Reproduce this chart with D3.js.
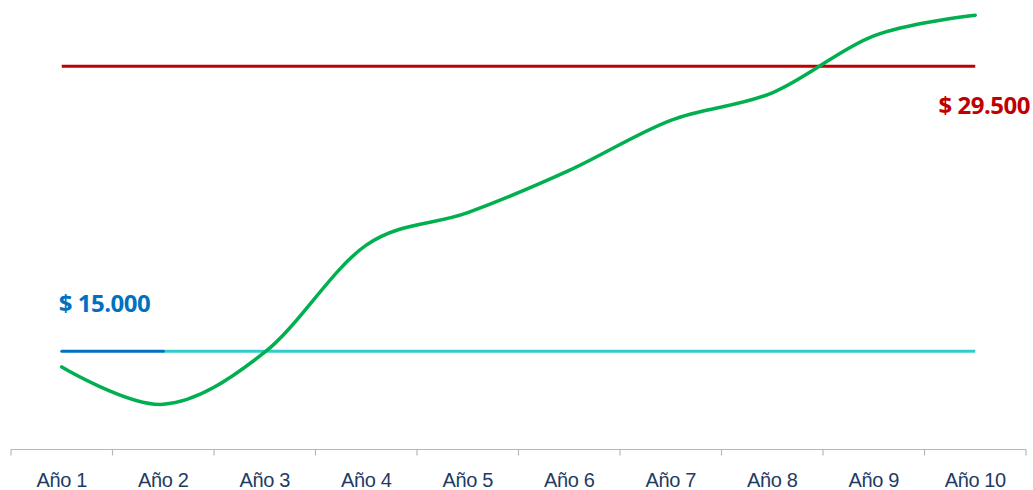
<!DOCTYPE html>
<html>
<head>
<meta charset="utf-8">
<script src="https://cdn.jsdelivr.net/npm/d3@7"></script>
<style>
  html, body { margin: 0; padding: 0; background: #fff; }
  svg { display: block; }
</style>
</head>
<body>
<svg id="chart" width="1033" height="490"></svg>
<script>
// Categories along the x axis
const years = ["Año 1", "Año 2", "Año 3", "Año 4", "Año 5", "Año 6", "Año 7", "Año 8", "Año 9", "Año 10"];
// Projected value per year (green curve)
const projection = [14200, 12300, 14950, 20400, 22050, 24200, 26750, 28150, 31050, 32100];
// Reference levels
const initialValue = 15000;
const targetValue = 29500;
const initialLabel = "$ 15.000";
const targetLabel = "$ 29.500";

const svg = d3.select("#chart");

const x = d3.scaleBand().domain(years).range([11, 1026]);
const y = d3.scaleLinear().domain([10000, 33000]).range([449.5, -2.5]);
const cx = d => x(d) + x.bandwidth() / 2;

// Category axis: baseline, boundary ticks, labels
const axis = svg.append("g").attr("transform", `translate(0,${y(10000)})`);
axis.call(d3.axisBottom(x).tickSize(0).tickPadding(0));
axis.select(".domain").remove();
axis.append("line")
  .attr("x1", x.range()[0]).attr("x2", x.range()[1])
  .attr("stroke", "#B4B8C4").attr("stroke-width", 1.2);
const bounds = years.map(d => x(d)).concat([x.range()[1]]);
axis.selectAll("line.bound").data(bounds).join("line")
  .attr("class", "bound")
  .attr("x1", d => d).attr("x2", d => d)
  .attr("y1", 0).attr("y2", 6)
  .attr("stroke", "#B4B8C4").attr("stroke-width", 1.2);
axis.selectAll(".tick text")
  .attr("dy", 0)
  .attr("y", 37)
  .attr("fill", "#1F3B63")
  .style("font-family", "'Liberation Sans', Arial, sans-serif")
  .style("font-size", "20px")
  .style("letter-spacing", "-0.4px");

// Target level (red)
svg.append("line")
  .attr("x1", cx(years[0])).attr("x2", cx(years[years.length - 1]))
  .attr("y1", y(targetValue)).attr("y2", y(targetValue))
  .attr("stroke", "#C00000").attr("stroke-width", 3);

// Initial level: first year highlighted, then continuing level
svg.append("line")
  .attr("x1", cx(years[1])).attr("x2", cx(years[years.length - 1]))
  .attr("y1", y(initialValue)).attr("y2", y(initialValue))
  .attr("stroke", "#33CCCC").attr("stroke-width", 3);
svg.append("line")
  .attr("x1", cx(years[0])).attr("x2", cx(years[1]))
  .attr("y1", y(initialValue)).attr("y2", y(initialValue))
  .attr("stroke", "#0070C0").attr("stroke-width", 3).attr("stroke-linecap", "round");

// Projection curve
const line = d3.line()
  .x((d, i) => cx(years[i]))
  .y(d => y(d))
  .curve(d3.curveCatmullRom.alpha(0));
svg.append("path")
  .datum(projection)
  .attr("d", line)
  .attr("fill", "none")
  .attr("stroke", "#00B050")
  .attr("stroke-width", 3.5)
  .attr("stroke-linecap", "round");

// Value labels
const labelFont = "'Open Sans', 'Noto Sans', sans-serif";
svg.append("text")
  .attr("x", cx(years[0]) - 3).attr("y", y(initialValue) - 39)
  .attr("fill", "#0070C0")
  .style("font-family", labelFont).style("font-weight", 700)
  .style("font-size", "24px").style("letter-spacing", "-0.5px")
  .text(initialLabel);
svg.append("text")
  .attr("x", 1030).attr("y", y(targetValue) + 48)
  .attr("text-anchor", "end")
  .attr("fill", "#C00000")
  .style("font-family", labelFont).style("font-weight", 700)
  .style("font-size", "24px").style("letter-spacing", "-0.5px")
  .text(targetLabel);
</script>
</body>
</html>
